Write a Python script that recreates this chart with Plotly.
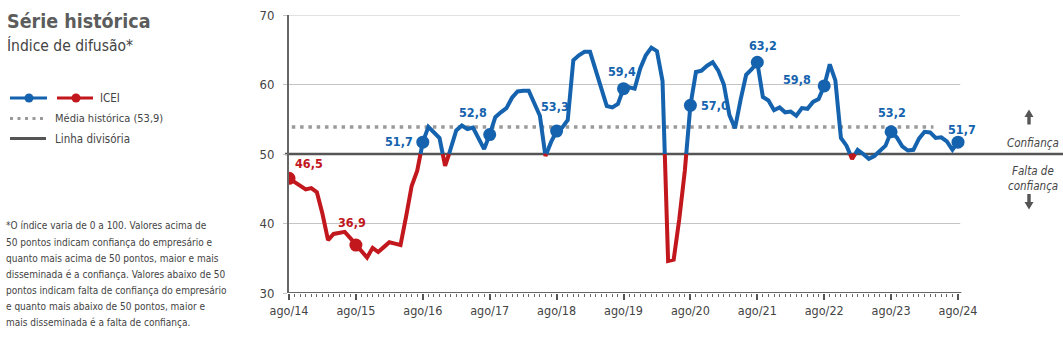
import plotly.graph_objects as go

# ---------------- data (ICEI, monthly, ago/14 .. ago/24) ----------------
rotulos_x = ["ago/14", "ago/15", "ago/16", "ago/17", "ago/18", "ago/19",
             "ago/20", "ago/21", "ago/22", "ago/23", "ago/24"]

# each list: Aug of year N .. Jul of year N+1
icei_14_15 = [46.5, 46.0, 45.5, 44.9, 45.1, 44.5, 41.4, 37.6, 38.5, 38.7, 38.8, 37.9]
icei_15_16 = [36.9, 36.0, 35.1, 36.5, 35.9, 36.6, 37.3, 37.1, 36.9, 41.0, 45.4, 47.6]
icei_16_17 = [51.7, 53.9, 53.0, 52.3, 48.3, 50.7, 53.4, 54.1, 53.6, 53.8, 52.2, 50.7]
icei_17_18 = [52.8, 55.3, 56.0, 56.6, 58.1, 59.0, 59.1, 59.1, 57.3, 55.5, 49.7, 51.7]
icei_18_19 = [53.3, 53.8, 54.9, 63.5, 64.2, 64.7, 64.7, 62.0, 59.3, 56.9, 56.7, 57.2]
icei_19_20 = [59.4, 59.6, 59.4, 62.3, 64.2, 65.3, 64.8, 60.5, 34.6, 34.8, 40.6, 47.6]
icei_20_21 = [57.0, 61.8, 62.0, 62.7, 63.2, 62.0, 60.0, 55.6, 53.7, 57.8, 61.4, 62.2]
icei_21_22 = [63.2, 58.2, 57.7, 56.3, 56.7, 56.0, 56.1, 55.5, 56.6, 56.5, 57.5, 57.9]
icei_22_23 = [59.8, 62.9, 60.6, 52.3, 51.2, 49.3, 50.6, 50.0, 49.3, 49.7, 50.5, 51.2]
icei_23_24 = [53.2, 52.4, 51.1, 50.5, 50.6, 52.2, 53.2, 53.1, 52.3, 52.4, 51.8, 50.6]
icei_ago_24 = [51.7]

media_historica = 53.9
linha_divisoria = 50
yticks = [30, 40, 50, 60, 70]

icei = (icei_14_15 + icei_15_16 + icei_16_17 + icei_17_18 + icei_18_19 +
        icei_19_20 + icei_20_21 + icei_21_22 + icei_22_23 + icei_23_24 + icei_ago_24)
x = list(range(len(icei)))

BLUE = "#1563ae"
RED = "#c1171d"
GRAY_TXT = "#444444"
FONT = "DejaVu Sans Condensed, Liberation Sans, sans-serif"

# ---------------- split line by threshold ----------------
def split_runs(xs, ys, thr):
    runs = {True: [], False: []}
    cur_below = ys[0] < thr
    cur = [(xs[0], ys[0])]
    for i in range(len(xs) - 1):
        x0, y0, x1, y1 = xs[i], ys[i], xs[i + 1], ys[i + 1]
        if (y0 - thr) * (y1 - thr) < 0:
            xc = x0 + (thr - y0) / (y1 - y0) * (x1 - x0)
            cur.append((xc, thr))
            runs[cur_below].append(cur)
            cur_below = y1 < thr
            cur = [(xc, thr), (x1, y1)]
        else:
            cur.append((x1, y1))
    runs[cur_below].append(cur)
    out = {}
    for k, lst in runs.items():
        xx, yy = [], []
        for r in lst:
            xx += [p[0] for p in r] + [None]
            yy += [p[1] for p in r] + [None]
        out[k] = (xx, yy)
    return out

runs = split_runs(x, icei, linha_divisoria)

# ---------------- layout geometry (body margin removed via post_script) ----------------
OFF = 0
W, H = 1063 - OFF, 356 - OFF
L, R, T, B = 289 - OFF, 0, 15 - OFF, 63
PW, PH = W - L - R, H - T - B
PX_PER_MONTH = 5.575
xmax = PW / PX_PER_MONTH

def px(xpix):  # reference-screenshot pixel -> paper
    return (xpix - OFF - L) / PW

def py(ypix):
    return (H - B - (ypix - OFF)) / PH

fig = go.Figure()

fig.add_trace(go.Scatter(x=runs[False][0], y=runs[False][1], mode="lines",
                         line=dict(color=BLUE, width=4), hoverinfo="skip",
                         showlegend=False, connectgaps=False))
fig.add_trace(go.Scatter(x=runs[True][0], y=runs[True][1], mode="lines",
                         line=dict(color=RED, width=4), hoverinfo="skip",
                         showlegend=False, connectgaps=False))

mx = x[::12]
my = icei[::12]
mcol = [RED if v < linha_divisoria else BLUE for v in my]
fig.add_trace(go.Scatter(x=mx, y=my, mode="markers",
                         marker=dict(color=mcol, size=13), showlegend=False,
                         hovertemplate="%{y}<extra></extra>"))

# ---------------- reference lines ----------------
shapes = []
for g in [40, 60, 70]:
    shapes.append(dict(type="line", xref="x", yref="y", x0=0, x1=120.4, y0=g, y1=g,
                       line=dict(color="#c4c4c4", width=1), layer="below"))
shapes.append(dict(type="line", xref="x", yref="y", x0=0.5, x1=115.6,
                   y0=media_historica, y1=media_historica,
                   line=dict(color="#9a9a9a", width=3.5, dash="3.5px,4.8px"), layer="below"))
shapes.append(dict(type="line", xref="paper", yref="y", x0=px(285), x1=1,
                   y0=linha_divisoria, y1=linha_divisoria,
                   line=dict(color="#555555", width=2.5), layer="below"))
shapes.append(dict(type="line", xref="x", yref="y", x0=0, x1=120.6, y0=30, y1=30,
                   line=dict(color="#666666", width=2), layer="below"))

# ---------------- legend (drawn) ----------------
shapes.append(dict(type="line", xref="paper", yref="paper", x0=px(10), x1=px(47),
                   y0=py(98), y1=py(98), line=dict(color=BLUE, width=3)))
shapes.append(dict(type="circle", xref="paper", yref="paper", x0=px(24.5), x1=px(33.5),
                   y0=py(93.5), y1=py(102.5), fillcolor=BLUE, line=dict(width=0)))
shapes.append(dict(type="line", xref="paper", yref="paper", x0=px(57), x1=px(93),
                   y0=py(98), y1=py(98), line=dict(color=RED, width=3)))
shapes.append(dict(type="circle", xref="paper", yref="paper", x0=px(71.5), x1=px(80.5),
                   y0=py(93.5), y1=py(102.5), fillcolor=RED, line=dict(width=0)))
shapes.append(dict(type="line", xref="paper", yref="paper", x0=px(10), x1=px(46),
                   y0=py(118.5), y1=py(118.5),
                   line=dict(color="#9a9a9a", width=3, dash="3px,4.5px")))
shapes.append(dict(type="line", xref="paper", yref="paper", x0=px(10), x1=px(46),
                   y0=py(138.5), y1=py(138.5), line=dict(color="#555555", width=3)))

# arrows (right side)
def arrow_path(xc, y_tip, y_base, y_end, hw=4.5, sw=1.7):
    pts = [(xc, y_tip), (xc + hw, y_base), (xc + sw, y_base), (xc + sw, y_end),
           (xc - sw, y_end), (xc - sw, y_base), (xc - hw, y_base)]
    return "M " + " L ".join(f"{px(a):.5f},{py(b):.5f}" for a, b in pts) + " Z"

for (yt, yb, ye) in [(109.5, 117, 124.5), (209.5, 202, 194)]:
    shapes.append(dict(type="path", xref="paper", yref="paper",
                       path=arrow_path(1029, yt, yb, ye),
                       fillcolor="#555555", line=dict(width=0)))

ann = []

def text(xpix, ypix, s, size, color=GRAY_TXT, bold=False, italic=False, anchor="left"):
    ann.append(dict(xref="paper", yref="paper", x=px(xpix), y=py(ypix), text=s,
                    showarrow=False, xanchor=anchor, yanchor="middle",
                    font=dict(family=FONT, size=size, color=color,
                              weight="bold" if bold else "normal",
                              style="italic" if italic else "normal")))

text(5, 22, "Série histórica", 19.5, color="#5c5c5c", bold=True)
text(5, 46, "Índice de difusão*", 15.5, color=GRAY_TXT)
text(98, 98, "ICEI", 11.5)
text(53, 118.5, "Média histórica (53,9)", 11)
text(53, 138.5, "Linha divisória", 11.5)

nota = ["*O índice varia de 0 a 100. Valores acima de",
        "50 pontos indicam confiança do empresário e",
        "quanto mais acima de 50 pontos, maior e mais",
        "disseminada é a confiança. Valores abaixo de 50",
        "pontos indicam falta de confiança do empresário",
        "e quanto mais abaixo de 50 pontos, maior e",
        "mais disseminada é a falta de confiança."]
for i, linha in enumerate(nota):
    text(4, 226 + 16 * i, linha, 10)

# right-side annotations
text(1033, 143, "Confiança", 11.5, italic=True, anchor="center")
text(1033, 171, "Falta de", 11.5, italic=True, anchor="center")
text(1033, 186, "confiança", 11.5, italic=True, anchor="center")

# value labels on markers: (xanchor, xshift, yshift)
label_pos = [("left", 4, 15), ("center", -4, 23), ("right", -8, 1), ("center", -17, 22),
             ("center", -2, 25), ("center", -2, 17), ("left", 9, 0), ("center", 6, 17),
             ("right", -11, 6), ("center", 1, 19), ("center", 4, 13)]
for (xi, yi, c, (anc, dx, dy)) in zip(mx, my, mcol, label_pos):
    ann.append(dict(xref="x", yref="y", x=xi, y=yi,
                    text=f"{yi:.1f}".replace(".", ","), showarrow=False,
                    xanchor=anc, xshift=dx, yshift=dy,
                    font=dict(family=FONT, size=12.5, color=c, weight="bold")))

fig.update_layout(
    width=W, height=H,
    margin=dict(l=L, r=R, t=T, b=B, pad=0),
    paper_bgcolor="white", plot_bgcolor="white",
    showlegend=False,
    shapes=shapes, annotations=ann,
    xaxis=dict(range=[0, xmax], showgrid=False, zeroline=False, showline=False,
               tickmode="array", tickvals=list(range(0, 121, 12)), ticktext=rotulos_x,
               ticks="outside", ticklen=6, tickwidth=1.5, tickcolor="#555555",
               tickfont=dict(family=FONT, size=12.5, color=GRAY_TXT),
               minor=dict(tickmode="array", tickvals=list(range(0, 121)),
                          ticks="outside", ticklen=3, tickwidth=1, tickcolor="#666666"),
               fixedrange=True),
    yaxis=dict(range=[30, 70], showgrid=False, zeroline=False,
               showline=True, linecolor="#666666", linewidth=2,
               tickmode="array", tickvals=yticks,
               ticks="outside", ticklen=4, tickcolor="#c4c4c4", tickwidth=1,
               ticklabelstandoff=6,
               tickfont=dict(family=FONT, size=13, color=GRAY_TXT),
               fixedrange=True),
)

fig.write_html("out.html", config={"displayModeBar": False},
               post_script="document.body.style.margin='0px';")
